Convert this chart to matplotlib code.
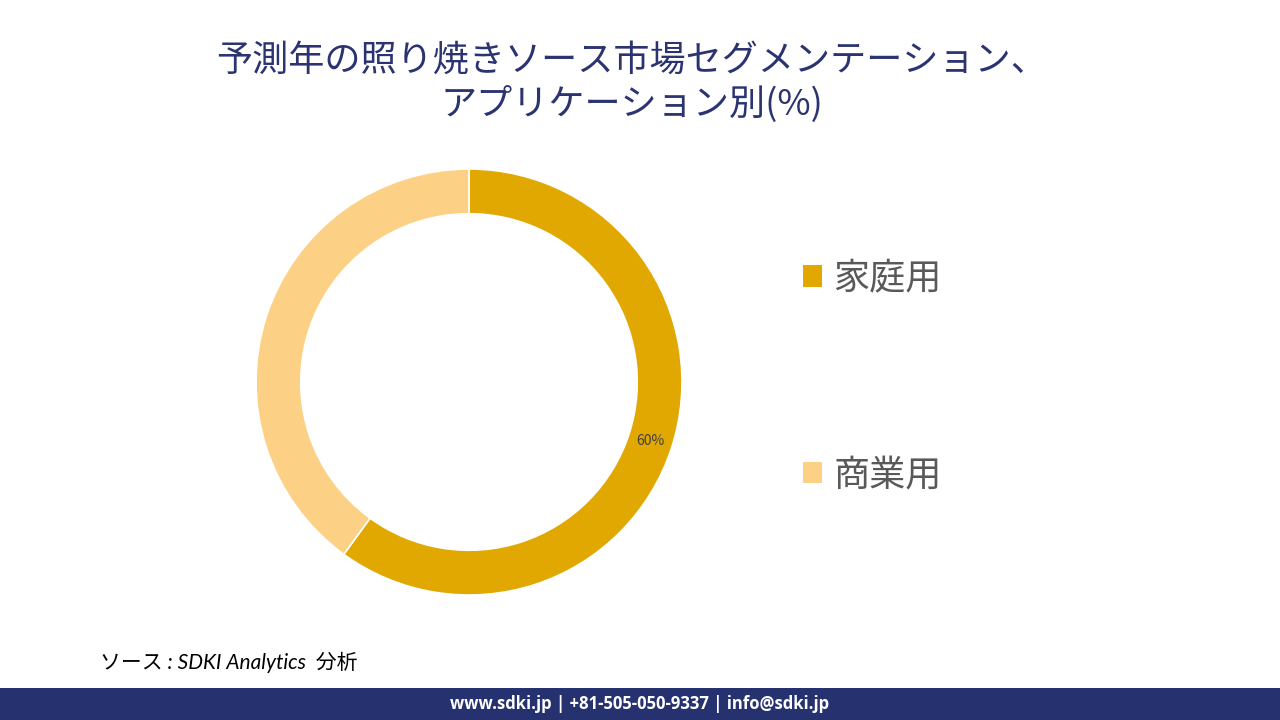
import matplotlib.pyplot as plt
from matplotlib.patches import Rectangle

plt.rcParams['font.family'] = ['Noto Sans CJK JP', 'DejaVu Sans']

title = "予測年の照り焼きソース市場セグメンテーション、\nアプリケーション別(%)"
segments = ["家庭用", "商業用"]
shares = [60, 40]
colors = ["#E0A800", "#FDD185"]
source = "ソース : SDKI Analytics  分析"
footer = "www.sdki.jp | +81-505-050-9337 | info@sdki.jp"

fig = plt.figure(figsize=(12.8, 7.2), dpi=100)
W, H = 1280, 720

fig.text(632 / W, 1 - 83 / H, title, ha='center', va='center', fontsize=26,
         color='#2B3470', linespacing=1.25)

# donut
cx, cy, r = 469, 382, 213
ax = fig.add_axes([(cx - r) / W, (H - cy - r) / H, 2 * r / W, 2 * r / H])
wedges, texts, autotexts = ax.pie(
    shares, colors=colors, startangle=90, counterclock=False,
    autopct=lambda p: '60%' if p > 50 else '', pctdistance=0.895,
    wedgeprops=dict(width=0.21, edgecolor='white', linewidth=1.2),
    textprops=dict(fontsize=10, color='#404040'))
ax.set_xlim(-1, 1)
ax.set_ylim(-1, 1)
ax.set_aspect('equal')

leg = fig.legend(wedges, segments, loc='upper left',
                 bbox_to_anchor=(770 / W, 1 - 228 / H), frameon=False,
                 fontsize=26, labelspacing=4.45, handlelength=0.55,
                 handleheight=0.55, handletextpad=0.3, labelcolor='#595959')
for h in leg.legend_handles:
    h.set_edgecolor('none')

fig.text(100 / W, 1 - 662 / H, source, ha='left', va='center', fontsize=15,
         style='italic', color='black',
         family=['Lato', 'Noto Sans CJK JP', 'DejaVu Sans'])

fig.patches.append(Rectangle((0, 0), 1, 32 / H, transform=fig.transFigure,
                             facecolor='#263270', edgecolor='none'))
fig.text(0.5, 16 / H, footer, ha='center', va='center', fontsize=12,
         fontweight='bold', color='white', family=['Open Sans', 'DejaVu Sans'])

fig.savefig('out.png', dpi=100)
